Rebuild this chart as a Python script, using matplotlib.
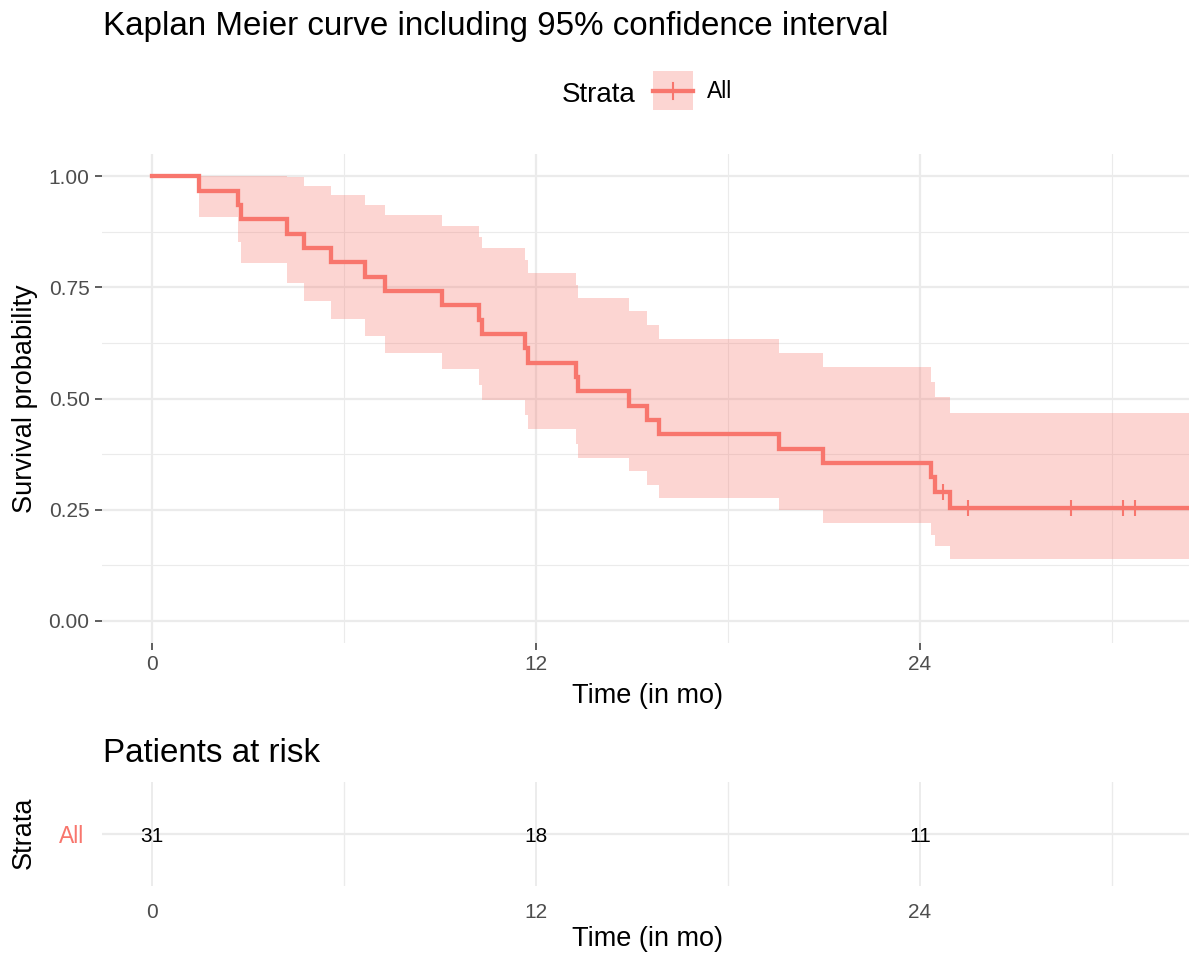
import numpy as np
import matplotlib
matplotlib.use("Agg")
import matplotlib.pyplot as plt
from matplotlib.patches import Rectangle
from matplotlib.lines import Line2D

plt.rcParams['font.family'] = ['Liberation Sans', 'DejaVu Sans']

# ---------------- data ----------------
event_times = [1.48, 2.68, 2.77, 4.21, 4.75, 5.58, 6.67, 7.27, 9.05, 10.22,
               10.30, 11.66, 11.74, 13.24, 13.32, 14.90, 15.48, 15.84, 19.58,
               20.98, 24.33, 24.47, 24.94]
censor_times = [24.73, 25.49, 28.72, 30.33, 30.73, 33.5, 35.0, 38.0]
risk_times = [0, 12, 24]
risk_counts = [31, 18, 11]
strata_label = "All"
x_breaks = [0, 12, 24]
y_breaks = [0.0, 0.25, 0.5, 0.75, 1.0]
y_break_labels = ["0.00", "0.25", "0.50", "0.75", "1.00"]

RED = "#F8766D"
GRID = "#EBEBEB"
TICKTXT = "#4D4D4D"

# ---------------- Kaplan-Meier estimate with log-type 95% CI ----------------
n_total = len(event_times) + len(censor_times)
all_t = sorted(set(event_times) | set(censor_times))
ev = np.array(event_times)
ce = np.array(censor_times)
S = 1.0
gw = 0.0
n_risk = n_total
step_x = [0.0]
step_s = [1.0]
step_lo = [1.0]
step_hi = [1.0]
cens_x, cens_y = [], []
for t in all_t:
    d = int(np.sum(ev == t))
    c = int(np.sum(ce == t))
    if d > 0:
        S *= (n_risk - d) / n_risk
        gw += d / (n_risk * (n_risk - d))
    se = np.sqrt(gw)
    step_x.append(t)
    step_s.append(S)
    step_lo.append(S * np.exp(-1.96 * se))
    step_hi.append(min(1.0, S * np.exp(1.96 * se)))
    if c > 0:
        cens_x.append(t)
        cens_y.append(S)
    n_risk -= d + c

# ---------------- figure ----------------
W, H = 1189, 956
fig = plt.figure(figsize=(W / 100, H / 100), dpi=100)


def fx(px):
    return px / W


def fy(py):
    return 1 - py / H


xlim = (-1.5625, 32.8125)
TICK_FS = 15
AXT_FS = 19.5
TITLE_FS = 23.9

ax = fig.add_axes([fx(102), fy(643), 1100 / W, 489 / H])
ax.set_xlim(*xlim)
ax.set_ylim(-0.05, 1.05)
for s in ax.spines.values():
    s.set_visible(False)
# grid
for v in [6, 18, 30]:
    ax.axvline(v, color=GRID, lw=0.8, zorder=0)
for v in [0.125, 0.375, 0.625, 0.875]:
    ax.axhline(v, color=GRID, lw=0.8, zorder=0)
for v in x_breaks:
    ax.axvline(v, color=GRID, lw=1.6, zorder=0)
for v in y_breaks:
    ax.axhline(v, color=GRID, lw=1.6, zorder=0)

ax.fill_between(step_x, step_lo, step_hi, step='post', color=RED, alpha=0.3,
                lw=0, zorder=1)
ax.step(step_x, step_s, where='post', color=RED, lw=3.1, zorder=2,
        solid_joinstyle='miter')
ax.plot(cens_x, cens_y, ls='none', marker='+', ms=12, mew=1.5, color=RED,
        zorder=3)

ax.set_xticks(x_breaks)
ax.set_xticklabels([str(b) for b in x_breaks])
ax.set_yticks(y_breaks)
ax.set_yticklabels(y_break_labels)
ax.tick_params(axis='both', length=5, width=1.1, color='#333333',
               labelcolor=TICKTXT, labelsize=TICK_FS, pad=4)

fig.text(fx(648), fy(703), "Time (in mo)", ha='center', va='baseline',
         fontsize=AXT_FS, color='black')
fig.text(fx(25), fy(399), "Survival probability", ha='center', va='center',
         rotation=90, fontsize=AXT_FS, color='black')

# title
fig.text(fx(103), fy(35), "Kaplan Meier curve including 95% confidence interval",
         ha='left', va='baseline', fontsize=TITLE_FS, color='black')

# legend
fig.text(fx(562), fy(102.5), "Strata", ha='left', va='baseline', fontsize=20)
fig.patches.append(Rectangle((fx(653), fy(110)), 40 / W, 39 / H,
                             transform=fig.transFigure, facecolor=RED,
                             alpha=0.3, lw=0))
fig.lines.append(Line2D([fx(653), fx(693)], [fy(90.5), fy(90.5)],
                        transform=fig.transFigure, color=RED, lw=3.1))
fig.lines.append(Line2D([fx(673), fx(673)], [fy(82.5), fy(98.5)],
                        transform=fig.transFigure, color=RED, lw=1.5))
fig.text(fx(707), fy(98.5), strata_label, ha='left', va='baseline', fontsize=16.5)

# ---------------- risk table ----------------
rax = fig.add_axes([fx(102), fy(886), 1100 / W, 104 / H])
rax.set_xlim(*xlim)
rax.set_ylim(0.4, 1.6)
for s in rax.spines.values():
    s.set_visible(False)
for v in [6, 18, 30]:
    rax.axvline(v, color=GRID, lw=1.0, zorder=0)
for v in x_breaks:
    rax.axvline(v, color=GRID, lw=1.3, zorder=0)
rax.axhline(1, color=GRID, lw=1.6, zorder=0)
for t, c in zip(risk_times, risk_counts):
    rax.text(t, 1, str(c), ha='center', va='center_baseline', fontsize=15,
             color='black')
rax.set_xticks(x_breaks)
rax.set_xticklabels([str(b) for b in x_breaks])
rax.set_yticks([1])
rax.set_yticklabels([strata_label])
rax.tick_params(axis='x', length=0, labelsize=TICK_FS, labelcolor=TICKTXT,
                pad=12)
rax.tick_params(axis='y', length=0, labelsize=16.5, labelcolor=RED, pad=13)
fig.text(fx(103), fy(762), "Patients at risk", ha='left', va='baseline',
         fontsize=TITLE_FS, color='black')
fig.text(fx(648), fy(946), "Time (in mo)", ha='center', va='baseline',
         fontsize=AXT_FS, color='black')
fig.text(fx(24), fy(833), "Strata", ha='center', va='center', rotation=90,
         fontsize=AXT_FS, color='black')

fig.savefig("out.png", dpi=100)
